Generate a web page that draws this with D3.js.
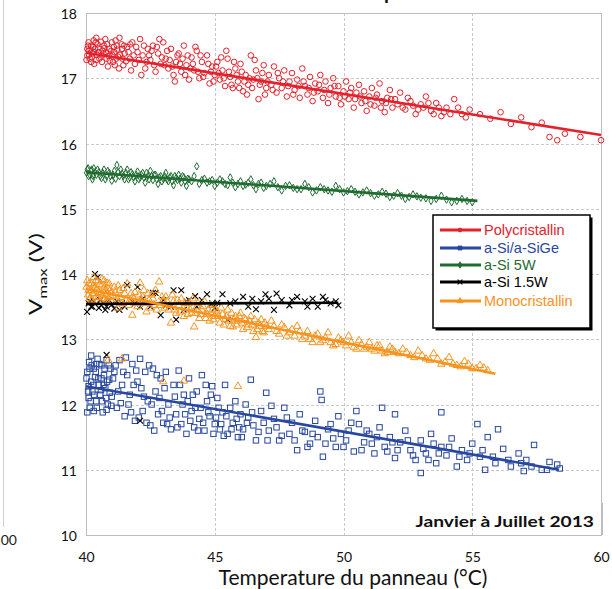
<!DOCTYPE html>
<html><head><meta charset="utf-8">
<script src="https://cdn.jsdelivr.net/npm/d3@7"></script>
<style>body{margin:0;background:#fff}svg{display:block}</style>
</head><body>
<svg id="c" width="612" height="589"></svg>
<script>
const xTicks=[40,45,50,55,60];
const yTicks=[10,11,12,13,14,15,16,17,18];
const seriesNames=["Polycristallin","a-Si/a-SiGe","a-Si 5W","a-Si 1.5W","Monocristallin"];
const seriesColors=["#e3212b","#2747a0","#1f6b30","#000000","#f7931e"];

const polyPts=[[40.05,17.35],[40.1,17.42],[40.15,17.3],[40.2,17.5],[40.25,17.38],[40.3,17.58],[40.35,17.45],[40.4,17.28],[40.45,17.52],[40.5,17.4],[40.1,17.55],[40.2,17.25],[40.3,17.4],[40.4,17.62],[40.05,17.45],
[40.6,17.35],[40.7,17.5],[40.75,17.6],[40.8,17.3],[40.9,17.45],[41.0,17.55],[41.05,17.25],[41.1,17.4],[41.2,17.5],[41.25,17.33],[41.3,17.62],[41.4,17.45],[41.45,17.2],[41.5,17.38],[40.65,17.42],[40.85,17.18],[41.15,17.58],
[41.6,17.48],[41.7,17.3],[41.8,17.55],[41.9,17.22],[42.0,17.4],[42.1,17.6],[42.2,17.35],[42.3,17.15],[42.4,17.45],[42.5,17.28],[42.6,17.5],[42.7,17.1],[42.8,17.38],[42.9,17.22],[43.0,17.55],[41.75,17.12],[42.15,17.05],[42.55,17.42],[42.85,17.6],
[43.1,17.3],[43.2,17.15],[43.3,17.45],[43.4,17.05],[43.5,17.25],[43.6,17.38],[43.7,17.1],[43.8,17.5],[43.9,17.2],[44.0,16.98],[44.1,17.32],[44.2,17.12],[44.3,17.42],[44.4,17.0],[44.5,17.25],[44.6,17.08],[44.7,17.35],[44.8,16.92],[44.9,17.18],[45.0,17.05],[43.45,16.95],[44.25,17.48],
[45.1,17.25],[45.2,16.98],[45.3,17.12],[45.4,16.88],[45.5,17.3],[45.6,17.02],[45.7,16.85],[45.8,17.15],[45.9,16.95],[46.0,17.22],[46.1,16.8],[46.2,17.05],[46.3,16.9],[46.4,17.35],[46.5,16.98],[46.6,17.12],[46.7,16.68],[46.8,16.95],[46.9,17.2],[47.0,16.85],[45.45,17.42],[46.25,16.75],[46.55,17.28],
[47.1,17.05],[47.2,16.9],[47.3,17.18],[47.4,16.78],[47.5,17.0],[47.6,16.85],[47.7,17.12],[47.8,16.72],[47.9,16.95],[48.0,17.08],[48.1,16.82],[48.2,16.98],[48.3,16.7],[48.4,17.15],[48.5,16.88],[48.6,16.75],[48.7,17.02],[48.8,16.65],[48.9,16.92],[49.0,16.8],[49.1,17.05],[49.2,16.7],[49.3,16.95],[49.4,16.62],[49.5,16.85],[49.6,17.0],[49.7,16.72],[49.8,16.88],[49.9,16.6],[50.0,16.8],
[50.1,16.95],[50.2,16.68],[50.3,16.85],[50.4,16.55],[50.5,16.78],[50.6,16.9],[50.7,16.62],[50.8,16.8],[50.9,16.5],[51.0,16.72],[51.1,16.85],[51.2,16.58],[51.3,16.75],[51.4,16.92],[51.5,16.65],[51.6,16.48],[51.7,16.7],[51.8,16.82],[51.9,16.55],[52.0,16.68],[52.2,16.78],[52.4,16.52],[52.6,16.65],[52.8,16.45],[53.0,16.6],
[53.2,16.72],[53.4,16.5],[53.6,16.62],[53.8,16.42],[54.0,16.55],[54.3,16.68],[54.6,16.45],[54.9,16.52],
[55.3,16.45],[55.7,16.38],[56.1,16.48],[56.5,16.3],[56.9,16.4],[57.3,16.25],[57.7,16.32],[58.0,16.1],[58.3,16.05],[58.6,16.15],[59.2,16.1],[60.0,16.05],
[40.02,17.28],[40.08,17.5],[40.12,17.36],[40.18,17.44],[40.22,17.32],[40.28,17.48],[40.32,17.22],[40.38,17.55],[40.42,17.36],[40.48,17.46],[40.52,17.3],[40.58,17.56],[40.62,17.25],[40.68,17.38],[40.72,17.46],[40.78,17.4],[40.82,17.52],[40.88,17.34],[40.92,17.27],[40.98,17.42],[41.02,17.36],[41.08,17.48],[41.12,17.2],[41.18,17.3],[41.22,17.44],[41.28,17.15],[41.32,17.36],[41.38,17.52],[41.42,17.3],[41.48,17.5],[41.55,17.26],[41.65,17.4],[41.72,17.52],[41.85,17.35],[41.95,17.48],[42.05,17.28],[42.25,17.5],[42.35,17.25],[42.45,17.35],[42.65,17.2],[42.75,17.48],[42.95,17.32],[43.05,17.2],[43.15,17.42],[43.25,17.28],[43.35,17.18],[43.55,17.35],[43.65,17.22],[43.75,17.3],[43.85,17.05],[43.95,17.35],[44.05,17.15],[44.15,17.22],[44.35,17.1],[44.45,17.35],[44.55,17.02],[44.75,17.22],[44.85,17.1],[44.95,16.95],[45.05,17.18],[45.15,17.08],[45.25,17.32],[45.35,17.0],[45.55,17.1],[45.65,16.9],[45.75,17.25],[45.85,17.05],[45.95,16.85],[46.05,17.1],[46.15,16.95],[46.35,17.0],[46.45,16.85],[46.65,17.0],[46.75,16.9],[46.85,17.08],[46.95,16.75],[47.05,16.95],[47.25,16.82],[47.45,17.08],[47.65,16.95],[47.85,16.88],[48.05,16.75],[48.25,16.88],[48.45,16.95],[48.65,16.85],[48.85,16.78],[49.05,16.9],[49.25,16.82],[49.45,16.75],[49.65,16.88],[49.85,16.7],[50.05,16.72],[50.25,16.78],[50.45,16.68],[50.65,16.72],[50.85,16.65],[51.05,16.6],[51.25,16.7],[51.45,16.55],[51.65,16.62],[51.85,16.68],[52.1,16.6],[52.3,16.55],[52.5,16.7],[52.7,16.58],[52.9,16.52],[53.1,16.55],[53.3,16.62],[53.5,16.45],[53.7,16.55],[53.9,16.48],[54.15,16.45],[54.45,16.55],[54.75,16.4]];

const asigePts=[[40.05,12.5],[40.1,12.1],[40.12,12.65],[40.15,11.95],[40.2,12.35],[40.25,12.2],[40.3,12.55],[40.3,11.9],[40.35,12.42],[40.4,12.05],[40.45,12.7],[40.5,12.3],[40.55,12.15],[40.6,12.6],[40.65,11.88],[40.7,12.45],[40.75,12.25],[40.8,12.68],[40.85,12.0],[40.9,12.38],[40.95,12.55],[41.0,12.12],[40.1,12.28],[40.4,12.62],[40.6,12.4],[40.8,11.92],[40.05,11.88],[40.2,12.75],
[41.1,12.5],[41.2,11.95],[41.3,12.68],[41.4,12.3],[41.5,11.82],[41.6,12.45],[41.7,12.15],[41.8,12.62],[41.9,11.75],[42.0,12.35],[42.1,12.7],[42.2,11.9],[42.3,12.5],[42.4,12.05],[42.5,11.68],[42.6,12.55],[42.7,12.2],[42.8,11.85],[42.9,12.4],[43.0,11.72],[41.35,12.02],[41.75,11.88],[42.15,12.25],[42.45,12.6],[42.85,12.1],[41.55,12.72],[42.65,11.6],
[43.1,12.5],[43.2,12.0],[43.3,11.62],[43.4,12.3],[43.5,11.85],[43.6,12.52],[43.7,11.7],[43.8,12.15],[43.9,11.55],[44.0,12.4],[44.1,11.9],[44.2,11.65],[44.3,12.2],[44.4,11.78],[44.5,12.45],[44.6,11.6],[44.7,12.05],[44.8,11.82],[44.9,12.28],[45.0,11.7],[43.25,11.8],[43.75,12.0],[44.25,11.95],[44.65,12.3],
[45.1,12.1],[45.2,11.62],[45.3,11.88],[45.4,12.3],[45.5,11.55],[45.6,11.95],[45.7,11.72],[45.8,12.05],[45.9,11.5],[46.0,11.85],[46.1,11.62],[46.2,12.0],[46.4,12.38],[46.5,11.68],[46.6,11.45],[46.8,11.9],[47.0,12.18],[47.1,11.6],[47.3,11.78],[47.5,11.45],[47.7,11.95],[47.9,11.55],[48.0,11.72],[46.3,11.8],[47.2,11.98],
[48.2,11.3],[48.3,11.85],[48.5,11.58],[48.7,11.4],[48.9,11.75],[49.1,12.2],[49.15,12.07],[49.2,11.2],[49.4,11.62],[49.6,11.48],[49.8,11.82],[50.0,11.35],[50.2,11.6],[50.4,11.28],[50.6,11.7],[50.8,11.42],[51.0,11.55],[49.0,11.5],[50.5,11.9],
[51.2,11.25],[51.4,11.65],[51.6,11.35],[51.8,11.5],[52.0,11.18],[52.2,11.42],[52.4,11.6],[52.6,11.3],[52.8,11.15],[53.0,11.45],[53.2,11.25],[53.4,11.55],[53.6,11.1],[53.8,11.35],[54.0,11.22],[54.2,11.48],[54.4,11.05],[54.6,11.3],[54.8,11.15],[55.0,11.4],[51.5,11.95],[52.0,11.85],[53.0,10.95],
[55.3,11.2],[55.6,11.5],[55.9,11.1],[56.2,11.32],[56.5,11.05],[56.8,11.25],[57.1,11.15],[57.4,11.38],[57.7,11.0],[58.0,11.12],[58.3,11.08],[58.4,11.02],[56.0,11.62],[55.5,11.0],[57.0,10.98],[53.8,11.88],[55.2,11.7],
[40.02,12.4],[40.08,12.2],[40.14,12.55],[40.18,12.05],[40.22,12.6],[40.28,12.3],[40.32,12.15],[40.38,12.5],[40.42,11.95],[40.48,12.4],[40.52,12.62],[40.58,12.22],[40.62,12.05],[40.68,12.3],[40.72,12.55],[40.78,12.1],[40.82,12.35],[40.88,12.6],[40.92,12.18],[40.98,11.98],[41.05,12.4],[41.15,12.6],[41.25,12.2],[41.45,12.5],[41.65,12.0],[41.85,12.3],[41.95,12.52],[42.05,11.8],[42.25,12.12],[42.35,11.72],[42.55,12.0],[42.75,12.45],[42.95,11.9],[43.05,12.25],[43.15,11.7],[43.45,12.12],[43.55,11.65],[43.65,12.3],[43.85,11.85],[43.95,12.05],[44.05,11.75],[44.15,12.15],[44.35,11.6],[44.45,11.95],[44.55,11.72],[44.75,11.88],[44.85,12.15],[44.95,11.55],[45.05,11.8],[45.15,11.95],[45.25,11.7],[45.35,11.52],[45.45,11.82],[45.65,11.62],[45.85,11.78],[45.95,11.65],[46.05,11.5],[46.25,11.72],[46.45,11.88],[46.7,11.58],[46.9,11.72],[47.05,11.45],[47.4,11.65],[47.6,11.52],[47.8,11.8],[48.1,11.45],[48.4,11.6],[48.6,11.35],[48.8,11.55],[49.3,11.4],[49.5,11.7],[49.7,11.35],[49.9,11.55],[50.1,11.45],[50.3,11.72],[50.7,11.3],[50.9,11.6],[51.1,11.4],[51.3,11.5],[51.7,11.28],[51.9,11.42],[52.1,11.3],[52.5,11.45],[52.7,11.22],[53.1,11.32],[53.3,11.15],[53.5,11.4],[53.7,11.25],[54.1,11.35],[54.5,11.2],[54.9,11.25],[55.4,11.3],[55.8,11.2],[56.4,11.15],[56.9,11.1],[57.3,11.05],[57.9,11.0]];

const asi5Pts=[[40.05,15.6],[40.1,15.5],[40.2,15.58],[40.25,15.45],[40.3,15.62],[40.4,15.52],[40.5,15.56],[40.6,15.47],[40.7,15.6],[40.8,15.5],[40.9,15.55],[41.0,15.43],[41.1,15.58],[41.2,15.67],[41.3,15.5],[41.4,15.54],[41.5,15.45],[41.6,15.6],[41.7,15.48],[41.8,15.53],[41.9,15.42],[42.0,15.57],
[42.1,15.48],[42.2,15.55],[42.3,15.4],[42.4,15.5],[42.5,15.58],[42.6,15.44],[42.7,15.52],[42.8,15.38],[42.9,15.5],[43.0,15.46],[43.1,15.55],[43.2,15.42],[43.3,15.5],[43.4,15.36],[43.5,15.47],[43.6,15.52],[43.7,15.4],[43.8,15.48],[43.9,15.35],[44.0,15.45],[44.2,15.5],[44.3,15.65],[44.4,15.38],[44.6,15.46],[44.8,15.42],[45.0,15.35],
[45.2,15.45],[45.4,15.38],[45.6,15.48],[45.8,15.33],[46.0,15.42],[46.2,15.37],[46.4,15.45],[46.6,15.3],[46.8,15.4],[47.0,15.35],[47.3,15.42],[47.6,15.28],[47.9,15.36],[48.2,15.3],[48.5,15.38],[48.8,15.25],[49.1,15.33],[49.4,15.28],[49.7,15.35],[50.0,15.25],
[50.3,15.3],[50.6,15.22],[50.9,15.28],[51.2,15.2],[51.5,15.26],[51.8,15.18],[52.1,15.24],[52.4,15.15],[52.7,15.22],[53.0,15.17],[53.4,15.12],[53.8,15.2],[54.2,15.1],[54.6,15.15],[55.0,15.1],
[40.02,15.55],[40.08,15.62],[40.15,15.52],[40.22,15.6],[40.28,15.5],[40.35,15.56],[40.45,15.6],[40.55,15.5],[40.65,15.55],[40.75,15.45],[40.85,15.58],[40.95,15.5],[41.05,15.52],[41.15,15.46],[41.25,15.56],[41.35,15.6],[41.45,15.5],[41.55,15.55],[41.65,15.45],[41.75,15.56],[41.85,15.48],[41.95,15.52],[42.05,15.45],[42.15,15.52],[42.25,15.48],[42.35,15.55],[42.45,15.45],[42.55,15.5],[42.65,15.52],[42.75,15.45],[42.85,15.48],[42.95,15.42],[43.05,15.5],[43.15,15.45],[43.25,15.48],[43.35,15.42],[43.45,15.5],[43.55,15.44],[43.65,15.46],[43.75,15.5],[43.85,15.42],[43.95,15.46],[44.1,15.42],[44.5,15.44],[44.7,15.4],[44.9,15.44],[45.1,15.4],[45.3,15.42],[45.5,15.36],[45.7,15.4],[45.9,15.38],[46.1,15.35],[46.3,15.4],[46.5,15.36],[46.7,15.38],[46.9,15.32],[47.15,15.38],[47.45,15.33],[47.75,15.35],[48.05,15.32],[48.35,15.3],[48.65,15.33],[48.95,15.28],[49.25,15.3],[49.55,15.26],[49.85,15.3],[50.15,15.27],[50.45,15.26],[50.75,15.25],[51.05,15.24],[51.35,15.22],[51.65,15.23],[51.95,15.2],[52.25,15.2],[52.55,15.18],[52.85,15.19],[53.2,15.16],[53.6,15.15],[54.0,15.14],[54.4,15.12],[54.8,15.12]];

const asi15Pts=[[40.04,13.42],[40.1,13.55],[40.2,13.5],[40.3,13.58],[40.35,14.0],[40.45,13.95],[40.5,13.48],[40.6,13.52],[40.7,13.56],[40.8,13.5],[40.9,13.6],[41.0,13.53],[41.1,13.47],[41.3,13.45],[41.4,13.55],[41.6,13.83],[41.8,13.58],[42.0,13.8],[42.1,13.5],[42.3,13.55],[42.6,13.71],[42.7,13.71],[42.9,13.37],[43.1,13.52],[43.4,13.75],[43.5,13.3],[43.7,13.75],[43.8,13.45],[44.0,13.6],[44.24,13.66],[44.3,13.5],[44.7,13.69],[44.9,13.55],[45.1,13.56],[45.3,13.69],[45.5,13.3],[45.8,13.58],[46.1,13.65],[46.3,13.5],[46.46,13.62],[46.6,13.46],[46.97,13.69],[47.1,13.62],[47.3,13.45],[47.6,13.6],[47.9,13.52],[48.2,13.65],[48.5,13.58],[48.8,13.62],[49.0,13.5],[49.3,13.6],[49.5,13.55],[49.7,13.58],[40.8,12.76],[42.1,11.75],
[40.15,13.58],[40.25,13.5],[40.55,13.6],[40.75,13.45],[41.2,13.58],[41.5,13.5],[41.9,13.55],[42.2,13.62],[42.5,13.5],[43.0,13.6],[43.3,13.5],[43.9,13.58],[44.5,13.6],[45.0,13.48],[45.6,13.55],[46.8,13.58],[47.4,13.7],[48.0,13.6],[48.6,13.5],[49.2,13.65],[49.8,13.52]];

const monoPts=[[40.05,13.9],[40.1,13.75],[40.15,13.62],[40.2,13.85],[40.25,13.7],[40.3,13.95],[40.35,13.8],[40.4,13.65],[40.45,13.88],[40.5,13.72],[40.55,13.58],[40.6,13.82],[40.65,13.68],[40.7,13.9],[40.75,13.75],[40.8,13.6],[40.85,13.78],[40.9,13.85],[40.95,13.66],[41.0,13.72],
[41.1,13.8],[41.2,13.62],[41.3,13.75],[41.4,13.55],[41.5,13.7],[41.6,13.85],[41.7,13.6],[41.8,13.37],[41.9,13.72],[42.0,13.5],[42.1,13.86],[42.2,13.65],[42.3,13.55],[42.4,13.7],[42.5,13.48],[42.6,13.62],[42.7,13.75],[42.84,13.88],[42.9,13.52],[43.0,13.6],[41.25,13.48],[41.65,13.52],[42.35,13.42],[42.75,13.45],
[43.1,13.65],[43.2,13.45],[43.3,13.25],[43.4,13.58],[43.5,13.4],[43.6,13.52],[43.7,13.62],[43.8,13.35],[43.9,13.48],[44.0,13.55],[44.1,13.4],[44.2,13.19],[44.3,13.5],[44.4,13.32],[44.5,13.45],[44.6,13.58],[44.7,13.38],[44.8,13.28],[44.9,13.45],[45.0,13.35],[43.35,13.68],[44.15,13.62],
[45.1,13.42],[45.2,13.25],[45.3,13.38],[45.4,13.3],[45.5,13.45],[45.6,13.2],[45.7,13.19],[45.8,13.35],[45.9,13.28],[46.0,13.4],[46.1,13.15],[46.2,13.3],[46.3,13.22],[46.4,13.35],[46.5,13.12],[46.6,13.03],[46.7,13.25],[46.8,13.3],[46.9,13.1],[47.0,13.2],[47.2,13.28],[47.4,13.12],[47.6,13.22],[47.8,13.05],[48.0,13.15],
[48.2,13.2],[48.4,13.0],[48.6,13.12],[48.8,12.95],[49.0,13.08],[49.2,12.98],[49.4,13.1],[49.6,12.9],[49.8,13.02],[50.0,12.95],[50.2,13.05],[50.4,12.88],[50.6,12.98],[50.8,12.85],[51.0,12.95],[51.2,12.82],[51.4,12.9],[51.6,12.78],[51.8,12.88],[52.0,12.8],
[52.3,12.85],[52.6,12.75],[52.9,12.82],[53.2,12.7],[53.5,12.78],[53.8,12.62],[54.1,12.72],[54.4,12.6],[54.7,12.66],[55.0,12.55],[55.3,12.6],[55.6,12.52],
[40.86,12.68],[41.4,12.7],[43.0,12.35],[43.8,12.36],[45.9,12.28],
[40.02,13.8],[40.08,13.68],[40.12,13.85],[40.18,13.74],[40.22,13.6],[40.28,13.82],[40.32,13.7],[40.38,13.9],[40.42,13.76],[40.48,13.64],[40.52,13.84],[40.58,13.7],[40.62,13.92],[40.68,13.62],[40.72,13.8],[40.78,13.68],[40.82,13.86],[40.88,13.64],[40.92,13.74],[40.98,13.58],[41.05,13.66],[41.15,13.72],[41.25,13.82],[41.35,13.64],[41.45,13.78],[41.55,13.6],[41.75,13.7],[41.85,13.62],[41.95,13.55],[42.05,13.68],[42.15,13.58],[42.25,13.75],[42.45,13.6],[42.55,13.68],[42.65,13.52],[42.95,13.65],[43.05,13.48],[43.15,13.58],[43.25,13.52],[43.45,13.45],[43.55,13.6],[43.65,13.42],[43.85,13.55],[43.95,13.38],[44.05,13.45],[44.25,13.4],[44.35,13.55],[44.45,13.38],[44.55,13.5],[44.65,13.32],[44.75,13.45],[44.85,13.52],[44.95,13.3],[45.05,13.45],[45.15,13.35],[45.25,13.48],[45.35,13.22],[45.45,13.35],[45.55,13.28],[45.65,13.4],[45.75,13.3],[45.85,13.22],[45.95,13.35],[46.05,13.25],[46.15,13.32],[46.25,13.18],[46.35,13.28],[46.45,13.22],[46.55,13.3],[46.65,13.15],[46.75,13.2],[46.85,13.12],[46.95,13.25],[47.1,13.15],[47.3,13.2],[47.5,13.08],[47.7,13.18],[47.9,13.1],[48.1,13.05],[48.3,13.12],[48.5,13.05],[48.7,13.0],[48.9,13.05],[49.1,12.95],[49.3,13.02],[49.5,12.95],[49.7,12.92],[49.9,12.98],[50.1,12.9],[50.3,12.95],[50.5,12.85],[50.7,12.92],[50.9,12.88],[51.1,12.85],[51.3,12.9],[51.5,12.82],[51.7,12.8],[51.9,12.85],[52.15,12.78],[52.45,12.8],[52.75,12.72],[53.05,12.75],[53.35,12.68],[53.65,12.7],[53.95,12.65],[54.25,12.62],[54.55,12.58],[54.85,12.62],[55.15,12.55],[55.45,12.56]];

const polyTrend=[[40,17.39],[60,16.13]];
const asigeTrend=[[40,12.28],[58.37,11.0]];
const asi5Trend=[[40,15.56],[55.2,15.12]];
const asi15Trend=[[40,13.54],[49.8,13.56]];
const monoTrend=[[40,13.77],[55.9,12.47]];

const svg=d3.select("#c");
const L=86,R=601,T=13,B=535;
const x=d3.scaleLinear().domain([40,60]).range([L,R]);
const y=d3.scaleLinear().domain([10,18]).range([B,T]);
const tickFont="Lato, 'Open Sans', sans-serif";

// neighbouring chart fragments
svg.append("line").attr("x1",3.5).attr("x2",3.5).attr("y1",0).attr("y2",527).attr("stroke","#d0d0d0").attr("stroke-width",1);
svg.append("text").attr("x",17).attr("y",545).attr("text-anchor","end").attr("font-family",tickFont).attr("font-size",14).attr("fill","#222").text("100");
svg.append("text").attr("x",384).attr("y",-1).attr("font-family",tickFont).attr("font-weight","bold").attr("font-size",20).attr("fill","#111").text("p");

// gridlines
const grid=svg.append("g").attr("stroke","#c9c9c9").attr("stroke-width",1).attr("stroke-dasharray","3,2");
grid.selectAll("line.h").data(yTicks.filter(d=>d>10&&d<18)).join("line").attr("class","h")
  .attr("x1",L).attr("x2",R).attr("y1",d=>Math.round(y(d))+0.5).attr("y2",d=>Math.round(y(d))+0.5);
grid.selectAll("line.v").data(xTicks.filter(d=>d>40&&d<60)).join("line").attr("class","v")
  .attr("y1",T).attr("y2",B).attr("x1",d=>Math.round(x(d))+0.5).attr("x2",d=>Math.round(x(d))+0.5);
svg.append("rect").attr("x",L+0.5).attr("y",T+0.5).attr("width",R-L).attr("height",B-T).attr("fill","none").attr("stroke","#bdbdbd").attr("stroke-width",1);

// axes
const xAxis=svg.append("g").attr("transform",`translate(0,${B})`).call(d3.axisBottom(x).tickValues(xTicks).tickSize(0).tickPadding(17));
const yAxis=svg.append("g").attr("transform",`translate(${L},0)`).call(d3.axisLeft(y).tickValues(yTicks).tickSize(0).tickPadding(9));
[xAxis,yAxis].forEach(a=>{a.select(".domain").remove();a.selectAll("text").attr("font-family",tickFont).attr("font-size",14).attr("fill","#111");});
yAxis.selectAll("text").attr("dy","0.4em");

// annotation box
svg.append("line").attr("x1",602.5).attr("x2",602.5).attr("y1",503).attr("y2",B).attr("stroke","#bdbdbd");
svg.append("text").attr("transform","translate(594,527) scale(1.2,1)").attr("text-anchor","end").attr("font-family",tickFont).attr("font-weight","bold").attr("font-size",16).attr("fill","#111").text("Janvier à Juillet 2013");

// axis titles
svg.append("text").attr("x",353).attr("y",585).attr("text-anchor","middle").attr("font-family",tickFont).attr("font-size",21).attr("fill","#111").text("Temperature du panneau (°C)");
const yl=svg.append("text").attr("transform","translate(42,274) rotate(-90) scale(1.4,1)").attr("text-anchor","middle").attr("font-family",tickFont).attr("font-size",17).attr("fill","#111");
yl.append("tspan").text("V");
yl.append("tspan").attr("font-size",12).attr("dy",5).text("max");
yl.append("tspan").attr("dy",-5).text(" (V)");

// marker functions
const sym=(type,size)=>d3.symbol().type(type).size(size)();
function drawPts(data,color,kind){
  const g=svg.append("g");
  if(kind==="circle"){
    g.selectAll("circle").data(data).join("circle").attr("cx",d=>x(d[0])).attr("cy",d=>y(d[1])).attr("r",2.8)
      .attr("fill","none").attr("stroke",color).attr("stroke-width",1);
  }else if(kind==="square"){
    g.selectAll("rect").data(data).join("rect").attr("x",d=>x(d[0])-2.7).attr("y",d=>y(d[1])-2.7).attr("width",5.4).attr("height",5.4)
      .attr("fill","none").attr("stroke",color).attr("stroke-width",1);
  }else{
    const path=kind==="diamond"?sym(d3.symbolDiamond,16):kind==="x"?sym(d3.symbolX,24):sym(d3.symbolTriangle,24);
    g.selectAll("path").data(data).join("path").attr("d",path).attr("transform",d=>`translate(${x(d[0])},${y(d[1])})`)
      .attr("fill","none").attr("stroke",color).attr("stroke-width",kind==="x"?1.1:1);
  }
}
drawPts(polyPts,seriesColors[0],"circle");
drawPts(asigePts,seriesColors[1],"square");
drawPts(asi5Pts,seriesColors[2],"diamond");
drawPts(asi15Pts,seriesColors[3],"x");
drawPts(monoPts,seriesColors[4],"triangle");

const line=d3.line().x(d=>x(d[0])).y(d=>y(d[1]));
[polyTrend,asigeTrend,asi5Trend,asi15Trend,monoTrend].forEach((t,i)=>{
  svg.append("path").attr("d",line(t)).attr("fill","none").attr("stroke",seriesColors[i]).attr("stroke-width",2.6);
});

// legend
const lx=433,ly=215,lw=157,lh=113;
svg.append("rect").attr("x",lx+2.5).attr("y",ly+2.5).attr("width",lw).attr("height",lh).attr("fill","#000");
svg.append("rect").attr("x",lx).attr("y",ly).attr("width",lw).attr("height",lh).attr("fill","#fff").attr("stroke","#000").attr("stroke-width",1.5);
const rowY=[230,248,265,282,301];
const kinds=["circle","square","diamond","x","triangle"];
seriesNames.forEach((n,i)=>{
  const g=svg.append("g").attr("transform",`translate(0,${rowY[i]})`);
  g.append("line").attr("x1",440).attr("x2",481).attr("y1",0).attr("y2",0).attr("stroke",seriesColors[i]).attr("stroke-width",3);
  const k=kinds[i];
  const p=k==="circle"?sym(d3.symbolCircle,12):k==="square"?sym(d3.symbolSquare,16):k==="diamond"?sym(d3.symbolDiamond,12):k==="x"?sym(d3.symbolX,16):sym(d3.symbolTriangle,16);
  g.append("path").attr("d",p).attr("transform","translate(460,0)").attr("fill",seriesColors[i]).attr("stroke",seriesColors[i]).attr("stroke-width",k==="x"?1.2:0.8);
  g.append("text").attr("x",484).attr("y",5).attr("font-family","'Liberation Sans', Arial, sans-serif").attr("font-size",14.5).attr("fill",seriesColors[i]).text(n);
});
</script>
</body></html>
